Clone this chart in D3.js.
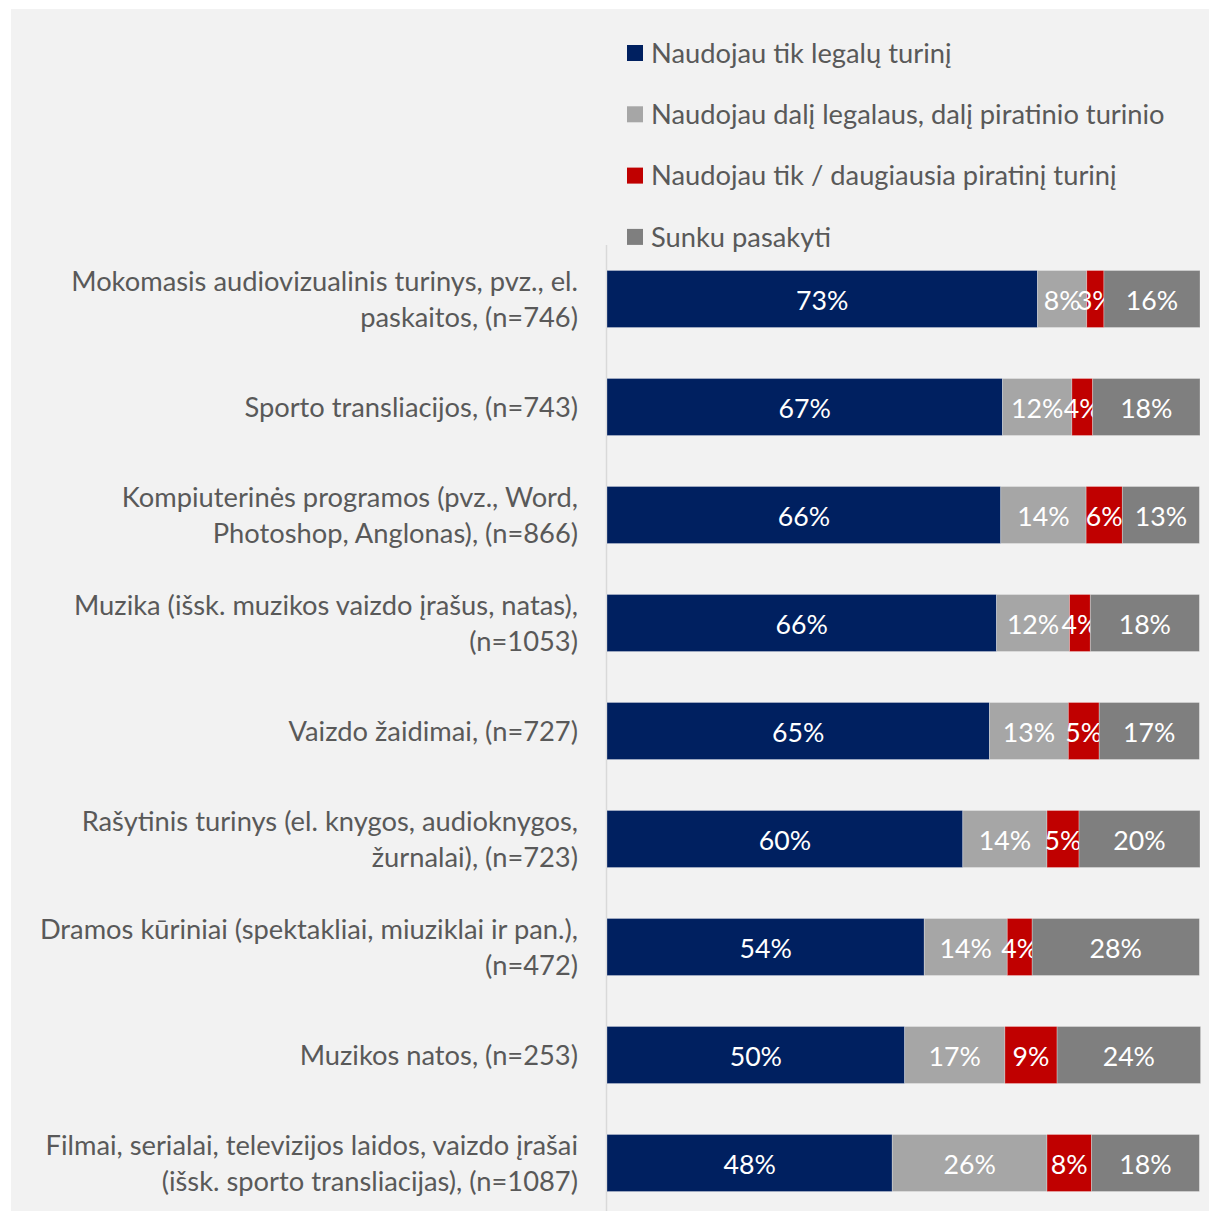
<!DOCTYPE html>
<html>
<head>
<meta charset="utf-8">
<script src="https://cdn.jsdelivr.net/npm/d3@7"></script>
<style>
	body { margin: 0; background: #ffffff; }
	text { font-family: Lato, "Open Sans", sans-serif; }
</style>
</head>
<body>
<svg id="chart"></svg>
<script>
// Categories (line breaks as in the original)
const categories = [
	"Mokomasis audiovizualinis turinys, pvz., el.\npaskaitos, (n=746)",
	"Sporto transliacijos, (n=743)",
	"Kompiuterinės programos (pvz., Word,\nPhotoshop, Anglonas), (n=866)",
	"Muzika (išsk. muzikos vaizdo įrašus, natas),\n(n=1053)",
	"Vaizdo žaidimai, (n=727)",
	"Rašytinis turinys (el. knygos, audioknygos,\nžurnalai), (n=723)",
	"Dramos kūriniai (spektakliai, miuziklai ir pan.),\n(n=472)",
	"Muzikos natos, (n=253)",
	"Filmai, serialai, televizijos laidos, vaizdo įrašai\n(išsk. sporto transliacijas), (n=1087)"
];
const seriesNames = [
	"Naudojau tik legalų turinį",
	"Naudojau dalį legalaus, dalį piratinio turinio",
	"Naudojau tik / daugiausia piratinį turinį",
	"Sunku pasakyti"
];
const legalOnly   = [72.6, 66.7, 66.4, 65.7, 64.5, 60.0, 53.5, 50.2, 48.1];
const mixed       = [8.3, 11.7, 14.4, 12.3, 13.3, 14.2, 14.0, 16.9, 26.1];
const piratedMost = [2.9, 3.5, 6.1, 3.5, 5.2, 5.4, 4.2, 8.8, 7.5];
const hardToSay   = [16.2, 18.1, 13.0, 18.4, 16.9, 20.4, 28.2, 24.2, 18.2];
const colors = ["#002060", "#a6a6a6", "#c00000", "#7f7f7f"];

const svgWidth = 1209;
const svgHeight = 1211;
const margin = {top: 245, right: 9, bottom: -6, left: 607};
const width = svgWidth - margin.left - margin.right,
	height = svgHeight - margin.top - margin.bottom;

const svg = d3.select("#chart")
	.attr("width", svgWidth)
	.attr("height", svgHeight);

// Panel background
svg.append("rect")
	.attr("x", 11).attr("y", 9)
	.attr("width", svgWidth - 11).attr("height", svgHeight - 9)
	.attr("fill", "#f2f2f2");

const g = svg.append("g")
	.attr("transform", "translate(" + margin.left + "," + margin.top + ")");

// Stack the data
const rows = categories.map((c, i) => ({cat: c, s0: legalOnly[i], s1: mixed[i], s2: piratedMost[i], s3: hardToSay[i]}));
const keys = ["s0", "s1", "s2", "s3"];
const stacked = d3.stack().keys(keys)(rows);

const x = d3.scaleLinear().domain([0, 100]).range([0, width]);
const y = d3.scaleBand().domain(categories).range([0, height]).paddingInner(0.472).paddingOuter(0.236);

// Vertical axis line
g.append("line")
	.attr("x1", -0.5).attr("x2", -0.5)
	.attr("y1", 0).attr("y2", svgHeight - margin.top)
	.attr("stroke", "#d9d9d9")
	.attr("stroke-width", 1.5);

// Bars
const layers = g.selectAll(".layer")
	.data(stacked)
	.enter().append("g")
	.attr("class", "layer")
	.attr("fill", (d, i) => colors[i]);

layers.selectAll("rect")
	.data(d => d)
	.enter().append("rect")
	.attr("x", d => x(d[0]))
	.attr("y", d => y(d.data.cat))
	.attr("width", d => x(d[1]) - x(d[0]))
	.attr("height", y.bandwidth())
	.attr("stroke", "#ffffff")
	.attr("stroke-opacity", 0.35)
	.attr("stroke-width", 0.8);

// Value labels
layers.selectAll(".val")
	.data(d => d)
	.enter().append("text")
	.attr("class", "val")
	.attr("x", d => (x(d[0]) + x(d[1])) / 2)
	.attr("y", d => y(d.data.cat) + y.bandwidth() / 2)
	.attr("dy", "0.42em")
	.attr("text-anchor", "middle")
	.attr("fill", "#ffffff")
	.style("font-size", "26.7px")
	.text(d => Math.round(d[1] - d[0]) + "%");

// Category labels
const catLabels = g.selectAll(".cat")
	.data(categories)
	.enter().append("text")
	.attr("class", "cat")
	.attr("text-anchor", "end")
	.attr("fill", "#595959")
	.style("font-size", "27.3px");

catLabels.each(function(c) {
	const lines = c.split("\n");
	const mid = y(c) + y.bandwidth() / 2;
	const lh = 36;
	lines.forEach((l, k) => {
		d3.select(this).append("tspan")
			.attr("x", -29)
			.attr("y", mid + (k - (lines.length - 1) / 2) * lh)
			.attr("dy", "0.36em")
			.text(l);
	});
});

// Legend
const legend = svg.append("g")
	.attr("transform", "translate(627,53)");

const items = legend.selectAll(".legend")
	.data(seriesNames)
	.enter().append("g")
	.attr("class", "legend")
	.attr("transform", (d, i) => "translate(0," + (i * 61.3) + ")");

items.append("rect")
	.attr("x", 0).attr("y", -8)
	.attr("width", 16).attr("height", 16)
	.attr("fill", (d, i) => colors[i]);

items.append("text")
	.attr("x", 24)
	.attr("y", 0)
	.attr("dy", "0.36em")
	.attr("fill", "#595959")
	.style("font-size", "27.3px")
	.text(d => d);
</script>
</body>
</html>
